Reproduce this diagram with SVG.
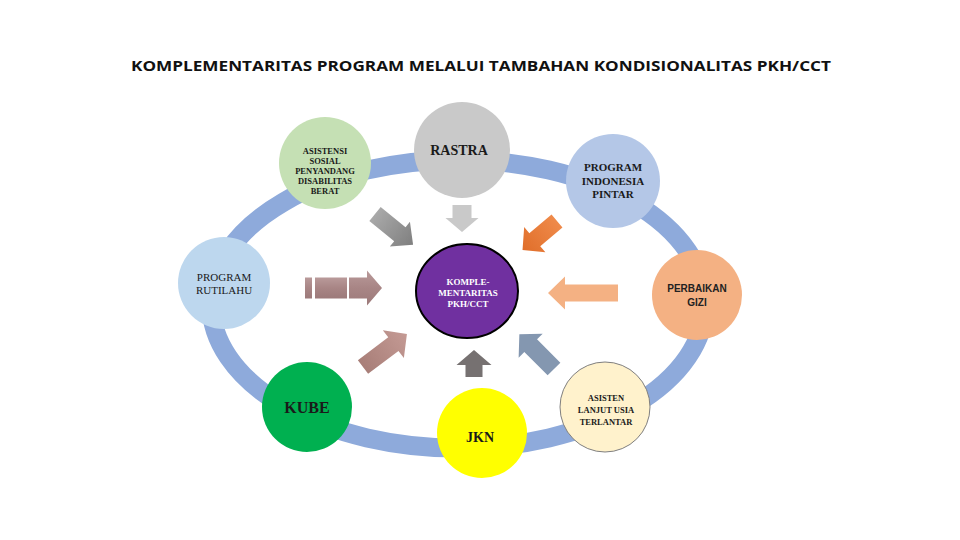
<svg xmlns="http://www.w3.org/2000/svg" width="960" height="540" viewBox="0 0 960 540">
<defs>
<style>
.t{font-family:"Liberation Serif","DejaVu Serif",serif;font-weight:bold;text-anchor:middle;fill:#1a1a1a}
.s{font-family:"Liberation Sans","DejaVu Sans",sans-serif;font-weight:bold;text-anchor:middle;fill:#222}
</style>
<linearGradient id="gGrey" x1="0" y1="0" x2="1" y2="0"><stop offset="0" stop-color="#a9a9a9"/><stop offset="1" stop-color="#7f7f7f"/></linearGradient>
<linearGradient id="gOr" x1="0" y1="0" x2="1" y2="0"><stop offset="0" stop-color="#ef8a4a"/><stop offset="1" stop-color="#e06e2a"/></linearGradient>
<linearGradient id="gMv" x1="0" y1="0" x2="0" y2="1"><stop offset="0" stop-color="#b99a9a"/><stop offset="0.5" stop-color="#a88585"/><stop offset="1" stop-color="#9c7a7a"/></linearGradient>
<linearGradient id="gMv2" x1="0" y1="0" x2="1" y2="0"><stop offset="0" stop-color="#a87e78"/><stop offset="1" stop-color="#c49a94"/></linearGradient>
</defs>
<rect width="960" height="540" fill="#ffffff"/>
<text x="481" y="71" font-family="'Open Sans','Liberation Sans',sans-serif" font-weight="bold" font-size="15" text-anchor="middle" fill="#111" textLength="700" lengthAdjust="spacingAndGlyphs">KOMPLEMENTARITAS PROGRAM MELALUI TAMBAHAN KONDISIONALITAS PKH/CCT</text>
<g id="ring"><ellipse cx="458" cy="304" rx="247" ry="144" fill="none" stroke="#8eaadb" stroke-width="19"/></g>
<g id="connectors">
<path transform="translate(375,214) rotate(39)" d="M0,-9 H32 V-16 L49,0 L32,16 V9 H0 Z" fill="url(#gGrey)"/>
<path transform="translate(462,205) rotate(90)" d="M0,-9.5 H13 V-16.5 L27,0 L13,16.5 V9.5 H0 Z" fill="#c9c9c9"/>
<path transform="translate(557,221) rotate(140)" d="M0,-8.5 H29 V-16.5 L45,0 L29,16.5 V8.5 H0 Z" fill="url(#gOr)"/>
<g fill="url(#gMv)">
<rect x="305" y="277.5" width="7" height="21"/>
<rect x="315" y="277.5" width="32" height="21"/>
<path d="M349,277.5 H367 V270.5 L382,288 L367,305.5 V298.5 H349 Z"/>
</g>
<path transform="translate(618,293) rotate(180)" d="M0,-8.5 H53 V-16.5 L70,0 L53,16.5 V8.5 H0 Z" fill="#f4b183"/>
<path transform="translate(363,367) rotate(-37)" d="M0,-8.5 H38 V-17.5 L55,0 L38,17.5 V8.5 H0 Z" fill="url(#gMv2)"/>
<path transform="translate(474,377) rotate(-90)" d="M0,-8.5 H12 V-17.5 L27,0 L12,17.5 V8.5 H0 Z" fill="#767171"/>
<path transform="translate(554,369) rotate(-135)" d="M0,-9 H33 V-17 L49,0 L33,17 V9 H0 Z" fill="#8497b0"/>
</g>
<g id="asistensi">
<circle cx="325" cy="163" r="46" fill="#c5e0b4"/>
<text class="t" font-size="8.5" x="325"><tspan x="325" y="154">ASISTENSI</tspan><tspan x="325" y="164">SOSIAL</tspan><tspan x="325" y="173.5">PENYANDANG</tspan><tspan x="325" y="183.5">DISABILITAS</tspan><tspan x="325" y="193.5">BERAT</tspan></text>
</g>
<g id="rastra">
<circle cx="462" cy="150" r="48" fill="#c9c9c9"/>
<text class="t" font-size="14" x="459" y="155">RASTRA</text>
</g>
<g id="pip">
<circle cx="613" cy="181" r="47" fill="#b4c7e7"/>
<text class="t" font-size="11"><tspan x="613" y="171">PROGRAM</tspan><tspan x="613" y="185">INDONESIA</tspan><tspan x="613" y="198">PINTAR</tspan></text>
</g>
<g id="rutilahu">
<circle cx="224" cy="283" r="46" fill="#bdd7ee"/>
<text class="t" font-size="11" style="font-weight:normal"><tspan x="224" y="281">PROGRAM</tspan><tspan x="224" y="294">RUTILAHU</tspan></text>
</g>
<g id="komplementaritas">
<ellipse cx="467" cy="291" rx="51" ry="47" fill="#7030a0" stroke="#000" stroke-width="2"/>
<text class="t" font-size="9" style="fill:#fff"><tspan x="468" y="285">KOMPLE-</tspan><tspan x="468" y="296">MENTARITAS</tspan><tspan x="468" y="306.5">PKH/CCT</tspan></text>
</g>
<g id="gizi">
<circle cx="697" cy="295" r="45" fill="#f4b183"/>
<text class="s" font-size="10"><tspan x="697" y="292">PERBAIKAN</tspan><tspan x="697" y="306">GIZI</tspan></text>
</g>
<g id="kube">
<circle cx="307" cy="407" r="45" fill="#00b050"/>
<text class="t" font-size="16" x="307" y="413">KUBE</text>
</g>
<g id="jkn">
<circle cx="482" cy="433" r="45" fill="#ffff00"/>
<text class="t" font-size="14" x="480" y="442">JKN</text>
</g>
<g id="lansia">
<circle cx="605" cy="407" r="45" fill="#fff2cc" stroke="#7f7f7f" stroke-width="1"/>
<text class="t" font-size="8.5"><tspan x="606" y="401">ASISTEN</tspan><tspan x="606" y="413">LANJUT USIA</tspan><tspan x="606" y="425">TERLANTAR</tspan></text>
</g>
</svg>
